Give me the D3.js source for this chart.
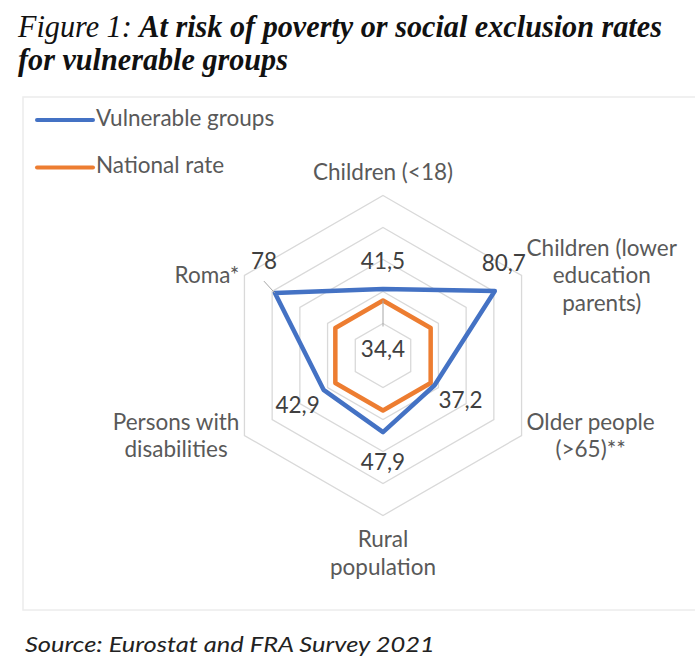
<!DOCTYPE html>
<html>
<head>
<meta charset="utf-8">
<script src="https://cdn.jsdelivr.net/npm/d3@7"></script>
<style>
  body { margin: 0; background: #fff; }
  svg text { font-family: Lato, "Open Sans", sans-serif; }
</style>
</head>
<body>
<div id="chart"></div>
<script>
// categories, clockwise from the top
const categories = [
  ["Children (<18)"],
  ["Children (lower", "education", "parents)"],
  ["Older people", "(>65)**"],
  ["Rural", "population"],
  ["Persons with", "disabilities"],
  ["Roma*"]
];
const vulnerable = [41.5, 80.7, 37.2, 47.9, 42.9, 78];
const national = [34.4, 34.4, 34.4, 34.4, 34.4, 34.4];
const ringTicks = [20, 40, 60, 80, 100];
const seriesNames = ["Vulnerable groups", "National rate"];

const width = 695, height = 670;
const cx = 383, cy = 355.5;
const blue = "#4472C4", orange = "#ED7D31";
const fs = "22.5px";

const svg = d3.select("#chart").append("svg")
  .attr("width", width).attr("height", height);

// title, condensed like the original
function squeezedLine(y, parts, target) {
  const g = svg.append("g");
  const t = g.append("text")
    .style("font-family", "'Liberation Serif', 'Times New Roman', serif")
    .style("font-style", "italic")
    .style("font-size", "32px")
    .attr("fill", "#111");
  parts.forEach(p => t.append("tspan").attr("font-weight", p[1]).text(p[0]));
  const w = t.node().getComputedTextLength();
  g.attr("transform", "translate(18," + y + ") scale(" + (target / w) + ",1)");
}
squeezedLine(37, [["Figure 1: ", "normal"], ["At risk of poverty or social exclusion rates", "bold"]], 644);
squeezedLine(70, [["for vulnerable groups", "bold"]], 270);

// chart area frame
svg.append("rect")
  .attr("x", 23).attr("y", 97).attr("width", 700).attr("height", 513)
  .attr("fill", "none").attr("stroke", "#ececec").attr("stroke-width", 1.5);

const r = d3.scaleLinear().domain([0, 100]).range([0, 160]);
const angle = i => i * Math.PI / 3;
const pt = (i, v) => [cx + r(v) * Math.sin(angle(i)), cy - r(v) * Math.cos(angle(i))];

const radial = d3.lineRadial()
  .angle((d, i) => angle(i))
  .radius(d => r(d))
  .curve(d3.curveLinearClosed);

const plot = svg.append("g").attr("transform", "translate(" + cx + "," + cy + ")");

// hexagon grid
plot.selectAll("path.ring").data(ringTicks).enter().append("path")
  .attr("class", "ring")
  .attr("d", t => radial(categories.map(() => t)))
  .attr("fill", "none").attr("stroke", "#d9d9d9").attr("stroke-width", 1.3);

// leader lines for moved labels
svg.append("line")
  .attr("x1", pt(0, national[0])[0]).attr("y1", pt(0, national[0])[1])
  .attr("x2", cx).attr("y2", cy - 29)
  .attr("stroke", "#a6a6a6").attr("stroke-width", 1);
const roma = pt(5, vulnerable[5]);
svg.append("line")
  .attr("x1", roma[0]).attr("y1", roma[1])
  .attr("x2", roma[0] - 11).attr("y2", roma[1] - 12)
  .attr("stroke", "#a6a6a6").attr("stroke-width", 1);

// series
plot.append("path").attr("d", radial(national))
  .attr("fill", "none").attr("stroke", orange).attr("stroke-width", 4.5)
  .attr("stroke-linejoin", "round");
plot.append("path").attr("d", radial(vulnerable))
  .attr("fill", "none").attr("stroke", blue).attr("stroke-width", 4.5)
  .attr("stroke-linejoin", "round");

const fmt = v => String(v).replace(".", ",");

// data labels for the vulnerable series, pushed out along the spoke
const nudge = [[0, 2], [-17, -13], [0, 0], [0, 0], [0, 0], [15, -17]];
svg.selectAll("text.vlab").data(vulnerable).enter().append("text")
  .attr("class", "vlab")
  .attr("x", (d, i) => pt(i, d)[0] + 30 * Math.sin(angle(i)) + nudge[i][0])
  .attr("y", (d, i) => pt(i, d)[1] - 30 * Math.cos(angle(i)) + nudge[i][1])
  .attr("dy", "0.35em").attr("text-anchor", "middle")
  .style("font-size", fs).attr("fill", "#404040")
  .text(fmt);

// single label for the national rate, sitting at the centre
svg.append("text")
  .attr("x", cx).attr("y", cy - 6).attr("dy", "0.35em")
  .attr("text-anchor", "middle")
  .style("font-size", fs).attr("fill", "#404040")
  .text(fmt(national[0]));

// category labels
const lineH = 27.5;
categories.forEach((lines, i) => {
  const [vx, vy] = pt(i, 100);
  const s = Math.sin(angle(i)), c = Math.cos(angle(i));
  const t = svg.append("text")
    .style("font-size", fs).attr("fill", "#595959")
    .attr("text-anchor", "middle");
  lines.forEach((l, k) => t.append("tspan").attr("x", 0)
    .attr("y", (k - (lines.length - 1) / 2) * lineH).attr("dy", "0.35em").text(l));
  const bw = d3.max(t.selectAll("tspan").nodes(), n => n.getComputedTextLength());
  const bh = lines.length * lineH;
  let x = vx, y = vy;
  if (Math.abs(s) > 0.1) x = vx + Math.sign(s) * (bw / 2 + 5);
  else y = vy - Math.sign(c) * (bh / 2 + 10);
  t.attr("transform", "translate(" + x + "," + y + ")");
});

// legend
const legend = svg.append("g").attr("transform", "translate(37,120)");
legend.selectAll("line").data(seriesNames).enter().append("line")
  .attr("x1", 0).attr("x2", 56)
  .attr("y1", (d, i) => i * 47.5).attr("y2", (d, i) => i * 47.5)
  .attr("stroke", (d, i) => [blue, orange][i]).attr("stroke-width", 4)
  .attr("stroke-linecap", "round");
legend.selectAll("text").data(seriesNames).enter().append("text")
  .attr("x", 59).attr("y", (d, i) => i * 47.5 - 2).attr("dy", "0.35em")
  .style("font-size", fs).attr("fill", "#595959")
  .text(d => d);

// source
const src = svg.append("g");
const st = src.append("text")
  .style("font-style", "italic").style("font-size", "22px").attr("fill", "#222")
  .text("Source: Eurostat and FRA Survey 2021");
src.attr("transform", "translate(25,652) scale(" + (410 / st.node().getComputedTextLength()) + ",1)");
</script>
</body>
</html>
